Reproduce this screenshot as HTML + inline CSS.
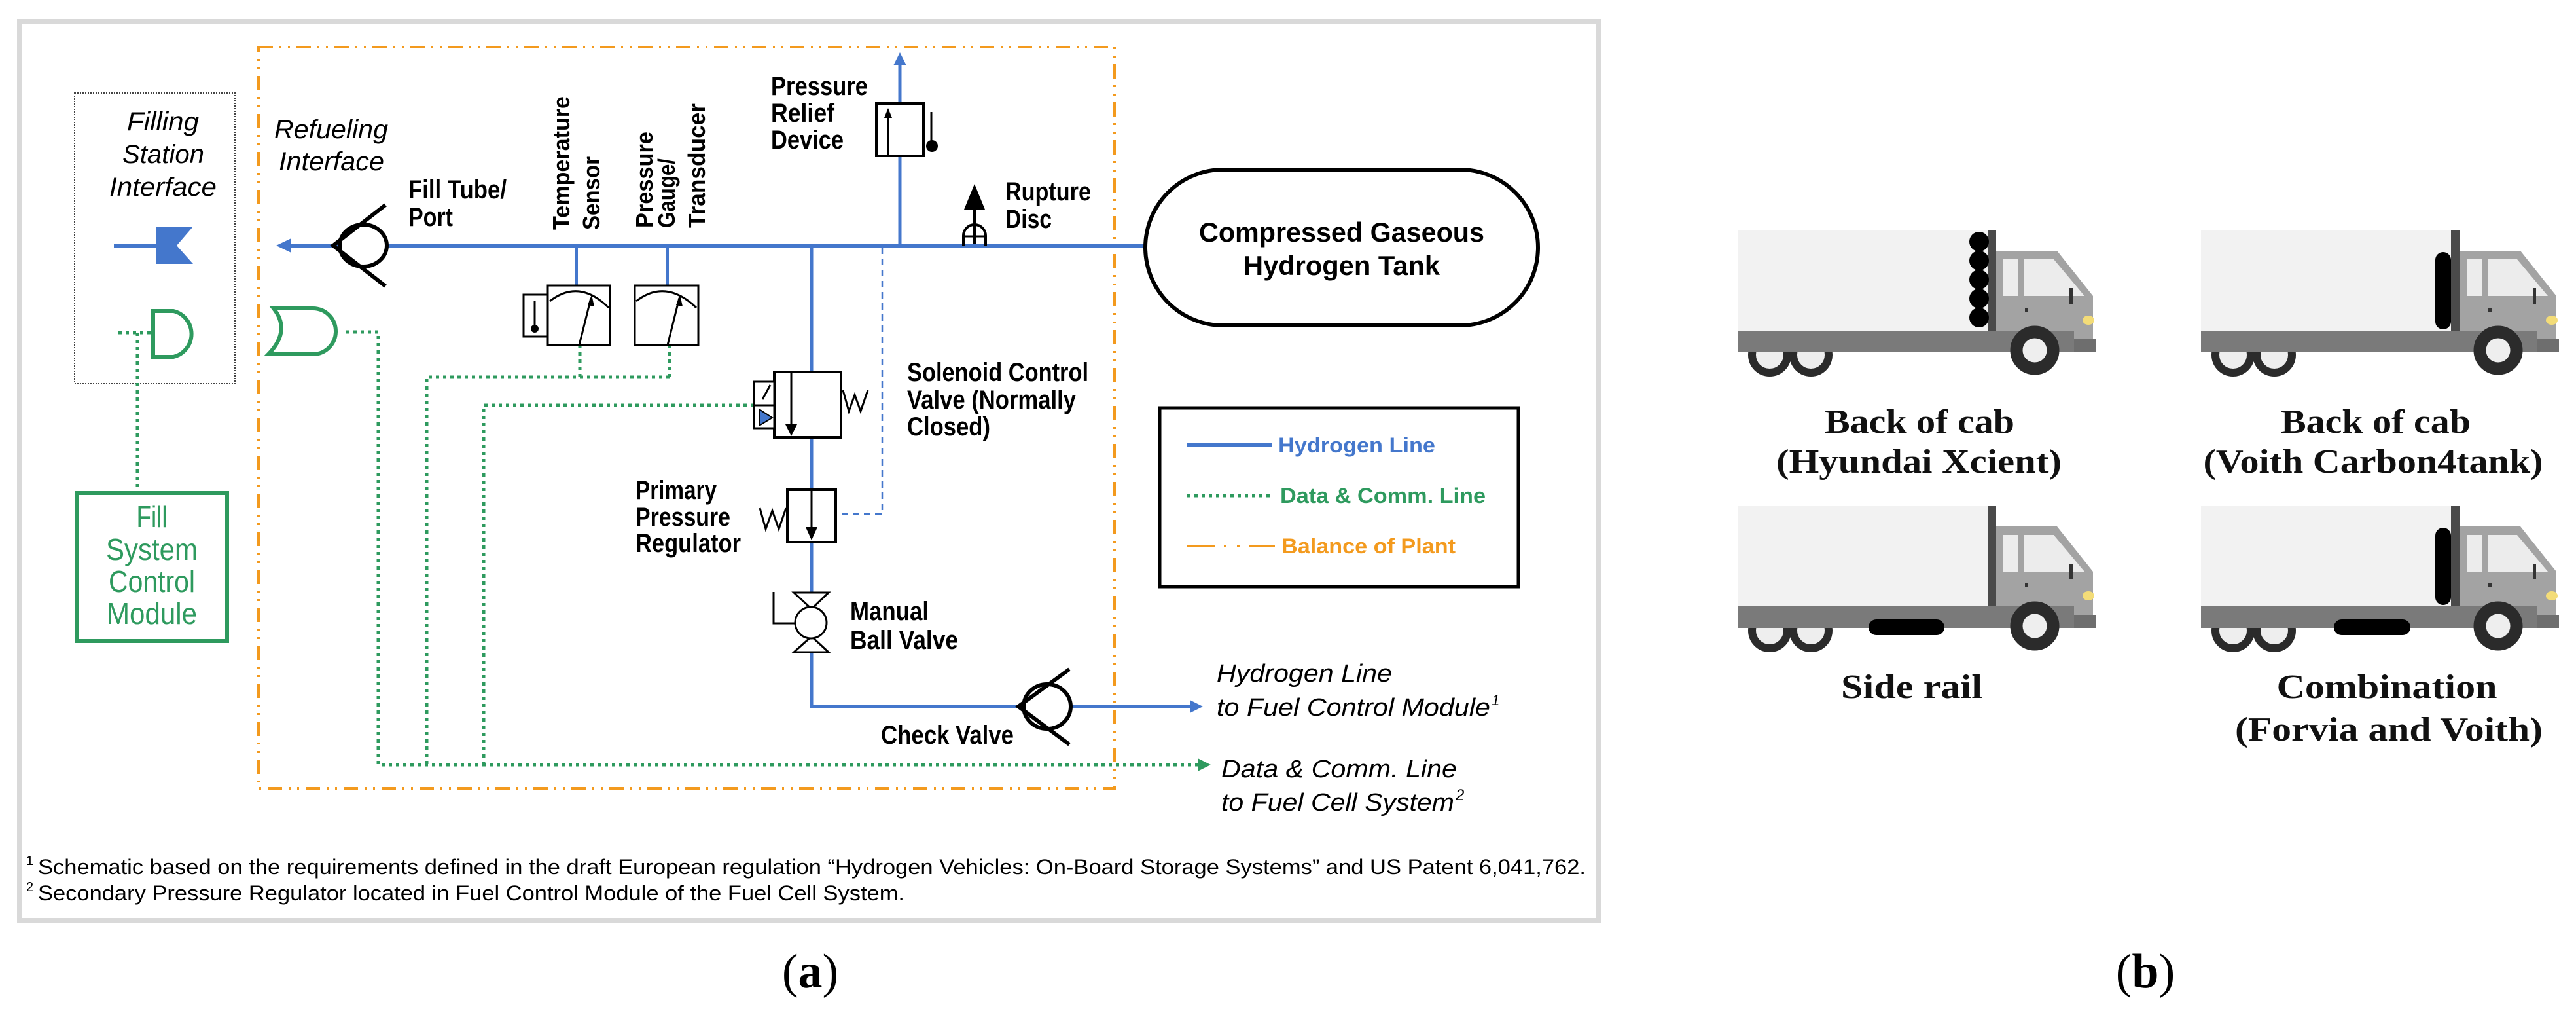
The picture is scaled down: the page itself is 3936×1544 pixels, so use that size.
<!DOCTYPE html>
<html><head><meta charset="utf-8"><style>
html,body{margin:0;padding:0;background:#fff;}
svg{display:block;}
.lb{font-family:"Liberation Sans",sans-serif;font-weight:bold;font-size:40px;fill:#000;}
.it{font-family:"Liberation Sans",sans-serif;font-style:italic;font-size:40px;fill:#000;}
.gr{font-family:"Liberation Sans",sans-serif;font-size:46px;fill:#2e9a5e;}
.rb{font-family:"Liberation Sans",sans-serif;font-weight:bold;font-size:36px;fill:#000;}
.ri{font-family:"Liberation Sans",sans-serif;font-style:italic;font-size:38px;fill:#000;}
.fn{font-family:"Liberation Sans",sans-serif;font-size:32px;fill:#000;}
.tk{font-family:"Liberation Sans",sans-serif;font-weight:bold;font-size:42px;fill:#000;}
.lg{font-family:"Liberation Sans",sans-serif;font-weight:bold;font-size:32px;}
.sf{font-family:"Liberation Serif",serif;font-weight:bold;font-size:52px;fill:#111;}
.cap{font-family:"Liberation Serif",serif;font-size:74px;fill:#000;}
</style></head><body>
<svg width="3936" height="1544" viewBox="0 0 3936 1544" xmlns="http://www.w3.org/2000/svg">
<defs>
<g id="truck">
  <!-- rear wheels -->
  <circle cx="3412" cy="542" r="27" fill="#eee" stroke="#2b2b2b" stroke-width="12"/>
  <circle cx="3475" cy="542" r="27" fill="#eee" stroke="#2b2b2b" stroke-width="12"/>
  <rect x="3363" y="352" width="383" height="153" fill="#f2f2f2"/>
  <rect x="3745" y="352" width="13" height="153" fill="#4a4a4a"/>
  <polygon points="3758,383 3851,383 3906,452 3906,520 3758,520" fill="#a3a3a3"/>
  <rect x="3769" y="396" width="23" height="56" fill="#ececec"/>
  <polygon points="3801,396 3846,396 3893,452 3801,452" fill="#ececec"/>
  <rect x="3870" y="440" width="5" height="24" fill="#333"/>
  <rect x="3802" y="470" width="5" height="6" fill="#333"/>
  <ellipse cx="3899" cy="489" rx="9" ry="7" fill="#f3dc78"/>
  <rect x="3363" y="505" width="514" height="33" fill="#7a7a7a"/>
  <rect x="3877" y="518" width="33" height="20" fill="#6e6e6e"/>
  <circle cx="3817" cy="535" r="28" fill="#eee" stroke="#2b2b2b" stroke-width="19"/>
</g>
<marker id="ab" viewBox="0 0 10 10" refX="9" refY="5" markerWidth="5" markerHeight="5" orient="auto"><path d="M0,0 L10,5 L0,10 z" fill="#4477cc"/></marker>
<marker id="ag" viewBox="0 0 10 10" refX="9" refY="5" markerWidth="3.5" markerHeight="4" orient="auto"><path d="M0,0 L10,5 L0,10 z" fill="#2e9a5e"/></marker>
</defs>

<!-- frame -->
<rect x="30" y="33" width="2412" height="1373" fill="#fff" stroke="#d9d9d9" stroke-width="8"/>

<!-- orange balance of plant -->
<rect x="395" y="72" width="1308" height="1132" fill="none" stroke="#f39a1e" stroke-width="4" stroke-dasharray="22 10 3 10 3 10"/>

<!-- filling station dotted box -->
<rect x="114" y="142" width="245" height="444" fill="none" stroke="#444" stroke-width="2" stroke-dasharray="2 2"/>
<text class="it" x="194" y="199" textLength="110" lengthAdjust="spacingAndGlyphs">Filling</text>
<text class="it" x="187" y="249" textLength="125" lengthAdjust="spacingAndGlyphs">Station</text>
<text class="it" x="167" y="299" textLength="164" lengthAdjust="spacingAndGlyphs">Interface</text>
<line x1="174" y1="375" x2="241" y2="375" stroke="#4477cc" stroke-width="6"/>
<polygon points="238,346 295,346 270,375 295,403 238,403" fill="#4477cc"/>
<!-- filling D -->
<path d="M234,475 L265,475 A36,36 0 0 1 265,545 L234,545 Z" fill="none" stroke="#2e9a5e" stroke-width="6"/>
<path d="M181,508 L232,508 M210,508 L210,751" stroke="#2e9a5e" stroke-width="5" stroke-dasharray="5 6" fill="none"/>
<!-- Fill module -->
<rect x="118" y="753" width="229" height="226" fill="none" stroke="#2e9a5e" stroke-width="6"/>
<text class="gr" x="232" y="805" text-anchor="middle" textLength="47" lengthAdjust="spacingAndGlyphs">Fill</text>
<text class="gr" x="232" y="855" text-anchor="middle" textLength="140" lengthAdjust="spacingAndGlyphs">System</text>
<text class="gr" x="232" y="904" text-anchor="middle" textLength="132" lengthAdjust="spacingAndGlyphs">Control</text>
<text class="gr" x="232" y="953" text-anchor="middle" textLength="138" lengthAdjust="spacingAndGlyphs">Module</text>

<text class="it" x="419" y="211" textLength="174" lengthAdjust="spacingAndGlyphs">Refueling</text>
<text class="it" x="426" y="260" textLength="161" lengthAdjust="spacingAndGlyphs">Interface</text>

<!-- refuel receptacle -->
<path d="M418,471 L478,471 A35,35 0 0 1 478,541 L410,541 Q445,505 418,471 Z" fill="none" stroke="#2e9a5e" stroke-width="6"/>

<!-- green data lines -->
<g stroke="#2e9a5e" stroke-width="5" stroke-dasharray="5 6" fill="none">
<path d="M529,507 L578,507 L578,1168 L1830,1168"/>
<path d="M886,527 L886,576 M1023,527 L1023,576 M1023,576 L652,576 L652,1168"/>
<path d="M1152,619 L739,619 L739,1168"/>
<path d="M1940,757 L1814,757"/>
</g>
<path d="M1830,1158 L1850,1168 L1830,1178 z" fill="#2e9a5e"/>

<!-- main hydrogen line -->
<line x1="440" y1="375" x2="1750" y2="375" stroke="#4477cc" stroke-width="6"/>
<path d="M445,364 L422,375 L445,386 z" fill="#4477cc"/>
<!-- fill check valve -->
<ellipse cx="555" cy="375" rx="36" ry="32" fill="#fff" stroke="#000" stroke-width="6"/>
<path d="M589,313 L509,375 L589,437" fill="none" stroke="#000" stroke-width="6"/>
<text class="lb" x="624" y="303" textLength="150" lengthAdjust="spacingAndGlyphs">Fill Tube/</text>
<text class="lb" x="624" y="345" textLength="68" lengthAdjust="spacingAndGlyphs">Port</text>

<!-- rotated labels -->
<text class="rb" transform="translate(870,351) rotate(-90)" textLength="204" lengthAdjust="spacingAndGlyphs">Temperature</text>
<text class="rb" transform="translate(916,351) rotate(-90)" textLength="112" lengthAdjust="spacingAndGlyphs">Sensor</text>
<text class="rb" transform="translate(997,348) rotate(-90)" textLength="147" lengthAdjust="spacingAndGlyphs">Pressure</text>
<text class="rb" transform="translate(1031,348) rotate(-90)" textLength="106" lengthAdjust="spacingAndGlyphs">Gauge/</text>
<text class="rb" transform="translate(1077,348) rotate(-90)" textLength="190" lengthAdjust="spacingAndGlyphs">Transducer</text>

<!-- sensors -->
<line x1="881" y1="375" x2="881" y2="436" stroke="#4477cc" stroke-width="4"/>
<line x1="1020" y1="375" x2="1020" y2="436" stroke="#4477cc" stroke-width="4"/>
<rect x="800" y="450" width="37" height="64" fill="#fff" stroke="#000" stroke-width="3"/>
<line x1="817" y1="460" x2="817" y2="500" stroke="#000" stroke-width="3"/>
<circle cx="817" cy="502" r="6" fill="#000"/>
<rect x="837" y="436" width="95" height="91" fill="#fff" stroke="#000" stroke-width="3"/>
<path d="M840,460 Q885,425 930,470" fill="none" stroke="#000" stroke-width="3"/>
<line x1="885" y1="527" x2="903" y2="455" stroke="#000" stroke-width="3"/>
<path d="M898,466 L904,450 L908,468 z" fill="#000"/>
<rect x="970" y="436" width="97" height="91" fill="#fff" stroke="#000" stroke-width="3"/>
<path d="M972,460 Q1017,425 1064,470" fill="none" stroke="#000" stroke-width="3"/>
<line x1="1020" y1="527" x2="1038" y2="455" stroke="#000" stroke-width="3"/>
<path d="M1033,466 L1039,450 L1043,468 z" fill="#000"/>

<!-- pressure relief -->
<line x1="1375" y1="375" x2="1375" y2="238" stroke="#4477cc" stroke-width="5"/>
<line x1="1375" y1="158" x2="1375" y2="95" stroke="#4477cc" stroke-width="5"/>
<path d="M1365,100 L1375,80 L1385,100 z" fill="#4477cc"/>
<rect x="1339" y="158" width="72" height="80" fill="#fff" stroke="#000" stroke-width="4"/>
<line x1="1357" y1="236" x2="1357" y2="175" stroke="#000" stroke-width="3"/>
<path d="M1351,180 L1357,165 L1363,180 z" fill="#000"/>
<line x1="1423" y1="171" x2="1423" y2="218" stroke="#000" stroke-width="3"/>
<circle cx="1424" cy="223" r="9" fill="#000"/>
<text class="lb" x="1178" y="145" textLength="148" lengthAdjust="spacingAndGlyphs">Pressure</text>
<text class="lb" x="1178" y="186" textLength="97" lengthAdjust="spacingAndGlyphs">Relief</text>
<text class="lb" x="1178" y="227" textLength="111" lengthAdjust="spacingAndGlyphs">Device</text>

<!-- rupture disc -->
<line x1="1489" y1="315" x2="1489" y2="372" stroke="#000" stroke-width="4"/>
<path d="M1473,320 L1489,281 L1505,320 z" fill="#000"/>
<path d="M1472,376 L1472,360 A17,17 0 0 1 1506,360 L1506,376" fill="none" stroke="#000" stroke-width="4"/>
<line x1="1472" y1="361" x2="1506" y2="361" stroke="#000" stroke-width="3"/>
<text class="lb" x="1536" y="306" textLength="131" lengthAdjust="spacingAndGlyphs">Rupture</text>
<text class="lb" x="1536" y="348" textLength="71" lengthAdjust="spacingAndGlyphs">Disc</text>

<!-- tank -->
<rect x="1750" y="259" width="600" height="238" rx="119" ry="119" fill="#fff" stroke="#000" stroke-width="6"/>
<text class="tk" x="2050" y="369" text-anchor="middle" textLength="436" lengthAdjust="spacingAndGlyphs">Compressed Gaseous</text>
<text class="tk" x="2050" y="420" text-anchor="middle" textLength="300" lengthAdjust="spacingAndGlyphs">Hydrogen Tank</text>

<!-- vertical branch -->
<line x1="1240" y1="375" x2="1240" y2="1079" stroke="#4477cc" stroke-width="5"/>
<path d="M1348,378 L1348,785 L1279,785" fill="none" stroke="#4477cc" stroke-width="2.5" stroke-dasharray="10 7"/>

<!-- solenoid -->
<rect x="1183" y="568" width="102" height="100" fill="#fff" stroke="#000" stroke-width="4"/>
<rect x="1152" y="583" width="31" height="71" fill="#fff" stroke="#000" stroke-width="3"/>
<line x1="1152" y1="619" x2="1183" y2="619" stroke="#000" stroke-width="3"/>
<line x1="1165" y1="610" x2="1177" y2="588" stroke="#000" stroke-width="3"/>
<path d="M1160,625 L1180,638 L1160,650 z" fill="#4477cc" stroke="#000" stroke-width="2"/>
<line x1="1209" y1="570" x2="1209" y2="655" stroke="#000" stroke-width="3"/>
<path d="M1200,648 L1209,666 L1218,648 z" fill="#000"/>
<path d="M1288,596 L1297,628 L1306,603 L1315,628 L1326,596" fill="none" stroke="#000" stroke-width="3"/>
<text class="lb" x="1386" y="582" textLength="277" lengthAdjust="spacingAndGlyphs">Solenoid Control</text>
<text class="lb" x="1386" y="624" textLength="258" lengthAdjust="spacingAndGlyphs">Valve (Normally</text>
<text class="lb" x="1386" y="665" textLength="127" lengthAdjust="spacingAndGlyphs">Closed)</text>

<!-- regulator -->
<rect x="1203" y="748" width="74" height="80" fill="#fff" stroke="#000" stroke-width="4"/>
<line x1="1240" y1="750" x2="1240" y2="815" stroke="#000" stroke-width="3"/>
<path d="M1231,805 L1240,825 L1249,805 z" fill="#000"/>
<path d="M1161,776 L1170,808 L1180,780 L1190,808 L1201,776" fill="none" stroke="#000" stroke-width="3"/>
<text class="lb" x="971" y="762" textLength="124" lengthAdjust="spacingAndGlyphs">Primary</text>
<text class="lb" x="971" y="803" textLength="145" lengthAdjust="spacingAndGlyphs">Pressure</text>
<text class="lb" x="971" y="843" textLength="161" lengthAdjust="spacingAndGlyphs">Regulator</text>

<!-- ball valve -->
<path d="M1213,905 L1266,905 L1240,930 Z M1213,996 L1266,996 L1240,972 Z" fill="#fff" stroke="#000" stroke-width="3"/>
<circle cx="1239" cy="951" r="24" fill="#fff" stroke="#000" stroke-width="3"/>
<path d="M1182,904 L1182,952 L1214,952" fill="none" stroke="#000" stroke-width="3"/>
<text class="lb" x="1299" y="947" textLength="120" lengthAdjust="spacingAndGlyphs">Manual</text>
<text class="lb" x="1299" y="991" textLength="165" lengthAdjust="spacingAndGlyphs">Ball Valve</text>

<!-- check valve 2 -->
<line x1="1238" y1="1079" x2="1560" y2="1079" stroke="#4477cc" stroke-width="6"/>
<line x1="1636" y1="1079" x2="1820" y2="1079" stroke="#4477cc" stroke-width="5"/>
<path d="M1818,1069 L1838,1079 L1818,1089 z" fill="#4477cc"/>
<ellipse cx="1600" cy="1079" rx="36" ry="34" fill="#fff" stroke="#000" stroke-width="6"/>
<path d="M1634,1022 L1556,1079 L1634,1137" fill="none" stroke="#000" stroke-width="6"/>
<text class="lb" x="1346" y="1136" textLength="203" lengthAdjust="spacingAndGlyphs">Check Valve</text>

<!-- legend -->
<rect x="1772" y="623" width="548" height="273" fill="#fff" stroke="#000" stroke-width="5"/>
<line x1="1814" y1="680" x2="1944" y2="680" stroke="#4477cc" stroke-width="6"/>
<text class="lg" x="1953" y="691" fill="#4477cc" textLength="240" lengthAdjust="spacingAndGlyphs">Hydrogen Line</text>
<path d="M1814,757 L1944,757" stroke="#2e9a5e" stroke-width="5" stroke-dasharray="5 6"/>
<text class="lg" x="1956" y="768" fill="#2e9a5e" textLength="314" lengthAdjust="spacingAndGlyphs">Data &amp; Comm. Line</text>
<path d="M1814,834 L1856,834 M1870,834 L1874,834 M1890,834 L1894,834 M1908,834 L1948,834" stroke="#f39a1e" stroke-width="4"/>
<text class="lg" x="1958" y="845" fill="#f39a1e" textLength="266" lengthAdjust="spacingAndGlyphs">Balance of Plant</text>

<!-- outlet labels -->
<text class="ri" x="1859" y="1041" textLength="268" lengthAdjust="spacingAndGlyphs">Hydrogen Line</text>
<text class="ri" x="1859" y="1093" textLength="418" lengthAdjust="spacingAndGlyphs">to Fuel Control Module</text>
<text class="ri" x="2279" y="1077" style="font-size:22px">1</text>
<text class="ri" x="1866" y="1187" textLength="360" lengthAdjust="spacingAndGlyphs">Data &amp; Comm. Line</text>
<text class="ri" x="1866" y="1238" textLength="356" lengthAdjust="spacingAndGlyphs">to Fuel Cell System</text>
<text class="ri" x="2224" y="1222" style="font-size:24px">2</text>

<!-- footnotes -->
<text class="fn" x="40" y="1321" style="font-size:20px">1</text>
<text class="fn" x="58" y="1335" textLength="2365" lengthAdjust="spacingAndGlyphs">Schematic based on the requirements defined in the draft European regulation “Hydrogen Vehicles: On-Board Storage Systems” and US Patent 6,041,762.</text>
<text class="fn" x="40" y="1361" style="font-size:20px">2</text>
<text class="fn" x="58" y="1375" textLength="1324" lengthAdjust="spacingAndGlyphs">Secondary Pressure Regulator located in Fuel Control Module of the Fuel Cell System.</text>

<text class="cap" x="1238" y="1508" text-anchor="middle">(<tspan font-weight="bold">a</tspan>)</text>

<!-- (b) trucks -->
<use href="#truck" transform="translate(-708,0)"/>
<use href="#truck"/>
<use href="#truck" transform="translate(-708,421)"/>
<use href="#truck" transform="translate(0,421)"/>
<!-- Hyundai cylinders -->
<g fill="#000">
<circle cx="3024" cy="369" r="15"/><circle cx="3024" cy="398" r="15"/><circle cx="3024" cy="427" r="15"/><circle cx="3024" cy="456" r="15"/><circle cx="3024" cy="485" r="15"/>
</g>
<!-- Voith vertical tanks -->
<rect x="3721" y="385" width="24" height="118" rx="12" fill="#000"/>
<rect x="3721" y="806" width="24" height="118" rx="12" fill="#000"/>
<!-- side rail tanks -->
<rect x="2855" y="946" width="116" height="24" rx="12" fill="#000"/>
<rect x="3566" y="946" width="117" height="24" rx="12" fill="#000"/>

<text class="sf" x="2933" y="661" text-anchor="middle" textLength="290" lengthAdjust="spacingAndGlyphs">Back of cab</text>
<text class="sf" x="2932" y="722" text-anchor="middle" textLength="436" lengthAdjust="spacingAndGlyphs">(Hyundai Xcient)</text>
<text class="sf" x="3630" y="661" text-anchor="middle" textLength="290" lengthAdjust="spacingAndGlyphs">Back of cab</text>
<text class="sf" x="3626" y="722" text-anchor="middle" textLength="519" lengthAdjust="spacingAndGlyphs">(Voith Carbon4tank)</text>
<text class="sf" x="2921" y="1066" text-anchor="middle" textLength="216" lengthAdjust="spacingAndGlyphs">Side rail</text>
<text class="sf" x="3647" y="1066" text-anchor="middle" textLength="337" lengthAdjust="spacingAndGlyphs">Combination</text>
<text class="sf" x="3650" y="1131" text-anchor="middle" textLength="470" lengthAdjust="spacingAndGlyphs">(Forvia and Voith)</text>

<text class="cap" x="3278" y="1508" text-anchor="middle">(<tspan font-weight="bold">b</tspan>)</text>
</svg>
</body></html>
